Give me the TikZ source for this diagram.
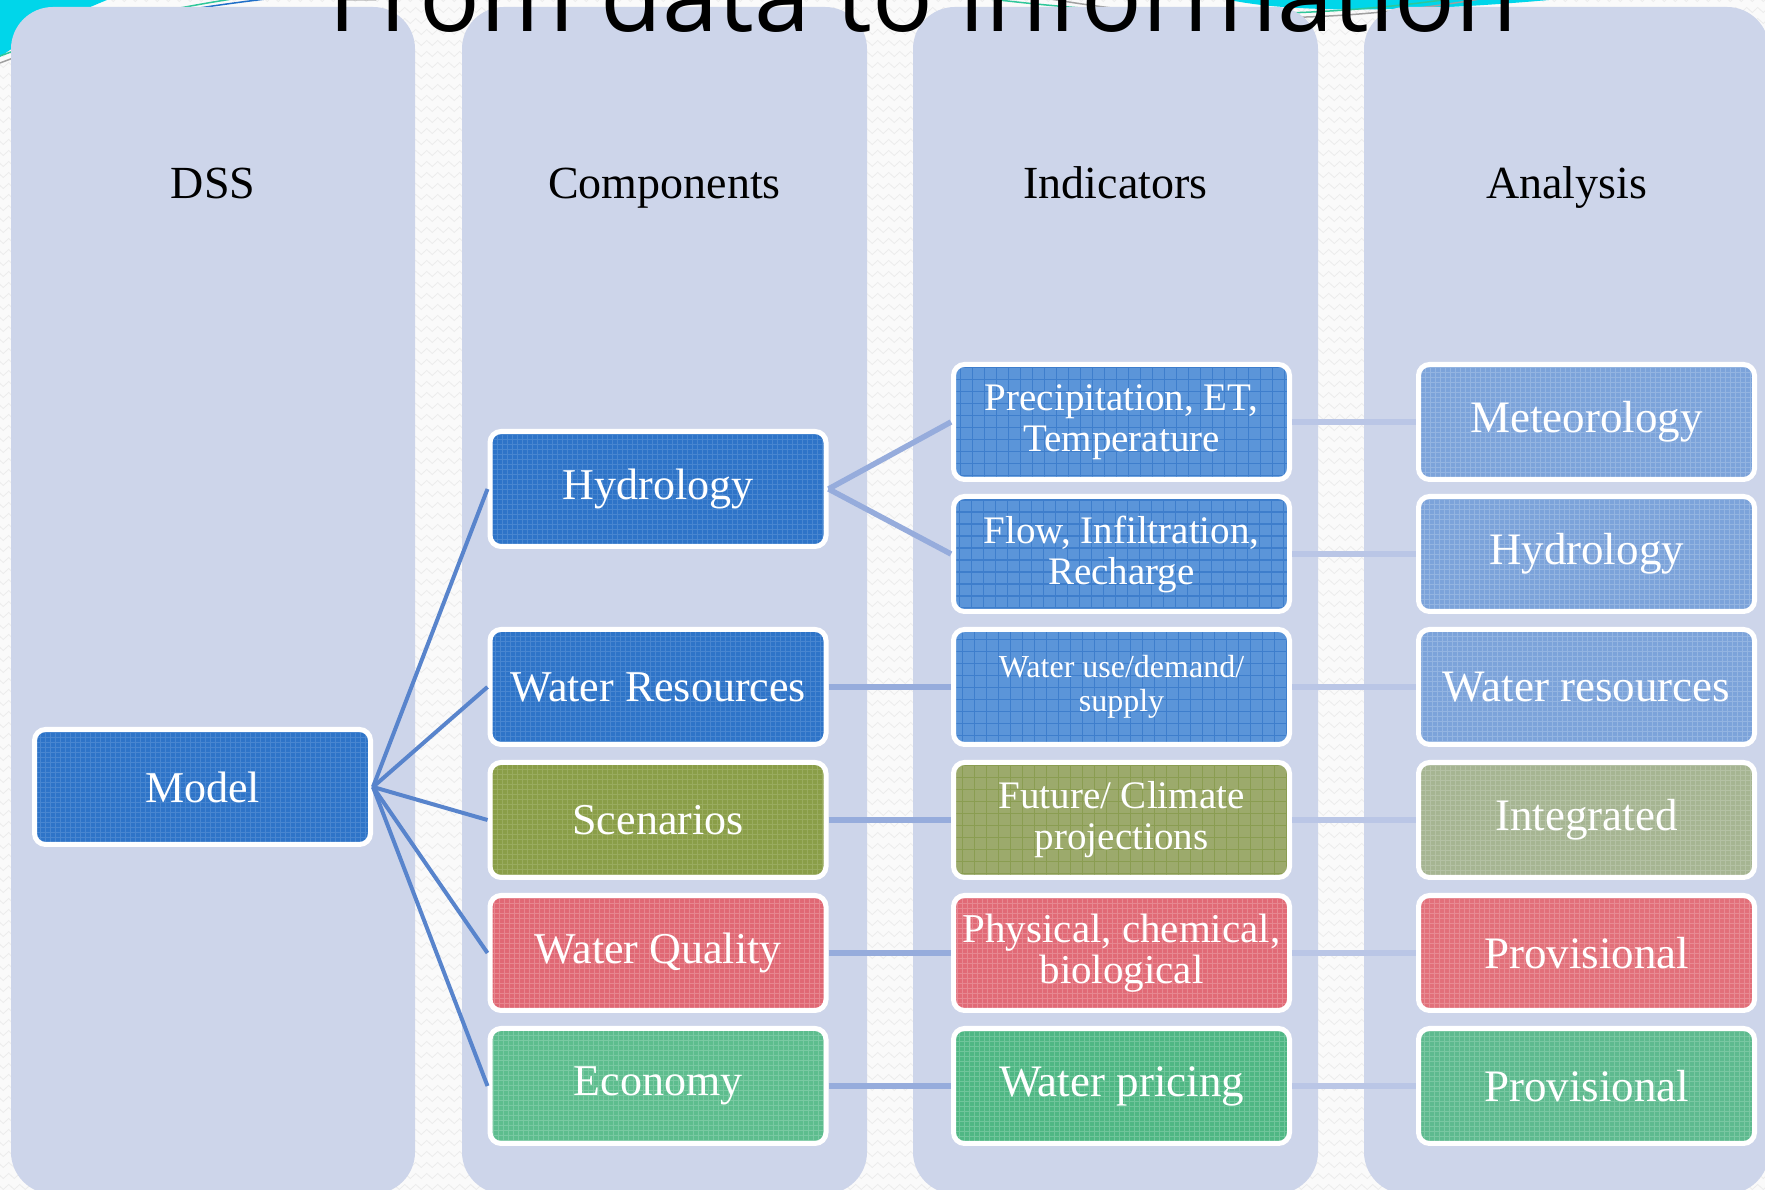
\documentclass[tikz,border=0pt]{standalone}
\usepackage{fontspec}
\setmainfont{Liberation Serif}
\newfontfamily\titleFont{Open Sans}
\usetikzlibrary{decorations.pathmorphing}
\begin{document}
\begin{tikzpicture}[x=1pt,y=1pt,
  panel/.style={fill=panelColor,rounded corners=42pt},
  box/.style={draw=white,line width=5pt,rounded corners=11pt,minimum width=336pt,
    minimum height=115pt,inner sep=0pt,align=center,text=white},
  fineGrid/.style={path picture={\draw[draw=#1,line width=1pt,opacity=0.35]
    (path picture bounding box.south west) grid[step=5pt] (path picture bounding box.north east);}},
  coarseGrid/.style={path picture={\draw[draw=#1,line width=1.2pt,opacity=0.6]
    (path picture bounding box.south west) grid[step=12pt] (path picture bounding box.north east);}},
  headText/.style={anchor=base,font=\fontsize{46}{46}\selectfont},
  compText/.style={font=\fontsize{44}{44}\selectfont},
  indText/.style={font=\fontsize{39}{41}\selectfont},
  anaText/.style={font=\fontsize{45}{45}\selectfont},
  modelLink/.style={draw=linkDark,line width=4pt},
  compLink/.style={draw=linkMid,line width=5.5pt},
  anaLink/.style={draw=linkLight,line width=6pt},
  bgZigzag/.style={draw=zigColor,line width=0.8pt,decorate,
    decoration={zigzag,segment length=11pt,amplitude=2.5pt}}]
\definecolor{bgColor}{RGB}{250,250,250}
\definecolor{zigColor}{RGB}{236,236,236}
\definecolor{panelColor}{RGB}{205,213,234}
\definecolor{blueDark}{RGB}{46,116,200}
\definecolor{blueDarkGrid}{RGB}{122,168,224}
\definecolor{blueMid}{RGB}{91,149,217}
\definecolor{blueMidGrid}{RGB}{44,111,196}
\definecolor{blueLight}{RGB}{124,163,218}
\definecolor{blueLightGrid}{RGB}{192,212,240}
\definecolor{oliveDark}{RGB}{138,158,72}
\definecolor{oliveDarkGrid}{RGB}{182,196,138}
\definecolor{oliveMid}{RGB}{156,170,108}
\definecolor{oliveMidGrid}{RGB}{126,149,63}
\definecolor{oliveLight}{RGB}{166,181,146}
\definecolor{oliveLightGrid}{RGB}{208,216,200}
\definecolor{redDark}{RGB}{224,104,116}
\definecolor{redMid}{RGB}{225,106,118}
\definecolor{redLight}{RGB}{226,112,122}
\definecolor{redGrid}{RGB}{245,190,196}
\definecolor{greenDark}{RGB}{93,189,142}
\definecolor{greenMid}{RGB}{79,183,132}
\definecolor{greenLight}{RGB}{94,186,143}
\definecolor{greenGrid}{RGB}{175,225,200}
\definecolor{linkDark}{RGB}{88,132,204}
\definecolor{linkMid}{RGB}{150,172,220}
\definecolor{linkLight}{RGB}{186,198,230}
\definecolor{swooshCyan}{RGB}{0,214,234}
\definecolor{swooshGreen}{RGB}{47,199,154}
\definecolor{swooshBlue}{RGB}{31,111,200}
\definecolor{swooshGray}{RGB}{160,160,160}
\path[use as bounding box,fill=bgColor] (0,0) rectangle (1765.00,1190.00);
\begin{scope}
\path[clip] (0,0) rectangle (1765.00,1190.00);

% background texture
\foreach \r in {0,...,108}
  \draw[bgZigzag] (-5,\r*11+3) -- (1770,\r*11+3);

% swooshes at the top edge
\fill[swooshCyan] (0,1190) -- (107,1190) .. controls (70,1175) and (30,1155) .. (0,1133) -- cycle;
\draw[swooshGreen,line width=1.5pt] (0,1134) .. controls (70,1160) and (150,1178) .. (232,1191);
\draw[swooshBlue,line width=1.5pt] (60,1150) .. controls (120,1170) and (190,1182) .. (266,1191);
\draw[swooshGray,line width=1.5pt] (0,1127) .. controls (60,1150) and (120,1165) .. (180,1175);
\fill[swooshCyan] (1225,1191) .. controls (1290,1176) and (1420,1178) .. (1560,1191) -- cycle;
\draw[swooshGreen,line width=1.5pt] (990,1191) .. controls (1150,1172) and (1300,1170) .. (1450,1191);
\draw[swooshGray,line width=1.5pt] (1050,1191) .. controls (1200,1166) and (1330,1166) .. (1480,1191);

% columns
\path[panel] ( 11.00, -4.00) rectangle ( 415.00,1183.00);
\path[panel] (462.00, -4.00) rectangle ( 867.00,1183.00);
\path[panel] (913.00, -4.00) rectangle (1318.00,1183.00);
\path[panel] (1364.00,-4.00) rectangle (1769.00,1183.00);

\node[anchor=base,inner sep=0pt,font=\titleFont\fontsize{101}{101}\selectfont] (title) at (923.00,1158.00) {From data to information};

\node[headText] (hDss) at ( 213.00,991.00) {DSS};
\node[headText] (hComp) at ( 664.50,991.00) {Components};
\node[headText] (hInd) at (1115.50,991.00) {Indicators};
\node[headText] (hAna) at (1566.50,991.00) {Analysis};

% model and its components
\node[box,fill=blueDark,fineGrid=blueDarkGrid,compText] (model) at (202.50,403.00) {Model};
\node[box,fill=blueDark,fineGrid=blueDarkGrid,compText] (hydrology) at (658.00,701.00) {Hydrology};
\node[box,fill=blueDark,fineGrid=blueDarkGrid,compText] (waterRes) at (658.00,503.00) {Water Resources};
\node[box,fill=oliveDark,fineGrid=oliveDarkGrid,compText] (scenarios) at (658.00,370.00) {Scenarios};
\node[box,fill=redDark,fineGrid=redGrid,compText] (waterQual) at (658.00,237.00) {Water Quality};
\node[box,fill=greenDark,fineGrid=greenGrid,compText] (economy) at (658.00,104.00) {Economy};

% indicators
\node[box,fill=blueMid,coarseGrid=blueMidGrid,indText] (precip) at (1121.50,768.00) {Precipitation, ET,\\Temperature};
\node[box,fill=blueMid,coarseGrid=blueMidGrid,indText] (flow) at (1121.50,636.00) {Flow, Infiltration,\\Recharge};
\node[box,fill=blueMid,coarseGrid=blueMidGrid,font=\fontsize{32}{34}\selectfont] (waterUse) at (1121.50,503.00) {Water use/demand/\\supply};
\node[box,fill=oliveMid,coarseGrid=oliveMidGrid,indText] (future) at (1121.50,370.00) {Future/ Climate\\projections};
\node[box,fill=redMid,fineGrid=redGrid,font=\fontsize{41}{41}\selectfont] (physical) at (1121.50,237.00) {Physical, chemical,\\biological};
\node[box,fill=greenMid,fineGrid=greenGrid,anaText] (pricing) at (1121.50,104.00) {Water pricing};

% analysis
\node[box,fill=blueLight,fineGrid=blueLightGrid,anaText] (meteo) at (1586.50,768.00) {Meteorology};
\node[box,fill=blueLight,fineGrid=blueLightGrid,anaText] (hydroAna) at (1586.50,636.00) {Hydrology};
\node[box,fill=blueLight,fineGrid=blueLightGrid,anaText] (waterResAna) at (1586.50,503.00) {Water resources};
\node[box,fill=oliveLight,fineGrid=oliveLightGrid,anaText] (integrated) at (1586.50,370.00) {Integrated};
\node[box,fill=redLight,fineGrid=redGrid,anaText] (provRed) at (1586.50,237.00) {Provisional};
\node[box,fill=greenLight,fineGrid=greenGrid,anaText] (provGreen) at (1586.50,104.00) {Provisional};

% links
\foreach \c in {hydrology,waterRes,scenarios,waterQual,economy}
  \draw[modelLink] (model.east) -- (\c.west);
\draw[compLink] (hydrology.east) -- (precip.west);
\draw[compLink] (hydrology.east) -- (flow.west);
\foreach \a/\b in {waterRes/waterUse,scenarios/future,waterQual/physical,economy/pricing}
  \draw[compLink] (\a.east) -- (\b.west);
\foreach \a/\b in {precip/meteo,flow/hydroAna,waterUse/waterResAna,future/integrated,physical/provRed,pricing/provGreen}
  \draw[anaLink] (\a.east) -- (\b.west);
\end{scope}
\end{tikzpicture}
\end{document}
